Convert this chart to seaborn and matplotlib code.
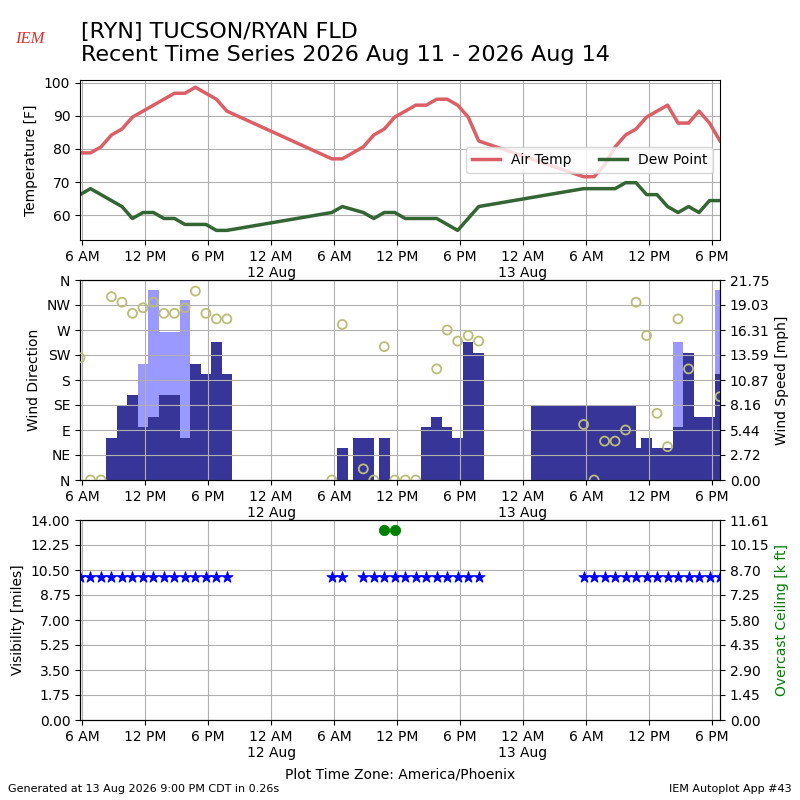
import numpy as np
import pandas as pd
import matplotlib
matplotlib.use('Agg')
import matplotlib.pyplot as plt
import matplotlib.dates as mdates
from matplotlib.ticker import FuncFormatter, FormatStrFormatter
import seaborn as sns

# observation hours, local time, every ob taken at :47
aug11_hours = list(range(5, 20))
aug12_hours = [5, 6] + list(range(8, 20))
aug13_hours = list(range(5, 19))

# air temperature [F]
tmpf = [78.8, 78.8, 80.6, 84.2, 86.0, 89.6, 91.4, 93.2, 95.0, 96.8, 96.8, 98.6, 96.8, 95.0, 91.4,
        77.0, 77.0, 80.6, 84.2, 86.0, 89.6, 91.4, 93.2, 93.2, 95.0, 95.0, 93.2, 89.6, 82.4,
        71.6, 71.6, 75.2, 80.6, 84.2, 86.0, 89.6, 91.4, 93.2, 87.8, 87.8, 91.4, 87.8, 82.4]
# dew point [F]
dwpf = [66.2, 68.0, 66.2, 64.4, 62.6, 59.0, 60.8, 60.8, 59.0, 59.0, 57.2, 57.2, 57.2, 55.4, 55.4,
        60.8, 62.6, 60.8, 59.0, 60.8, 60.8, 59.0, 59.0, 59.0, 59.0, 57.2, 55.4, 59.0, 62.6,
        68.0, 68.0, 68.0, 68.0, 69.8, 69.8, 66.2, 66.2, 62.6, 60.8, 62.6, 60.8, 64.4, 64.4]
# wind direction [deg]
drct = [220, 0, 0, 330, 320, 300, 310, 320, 300, 300, 310, 340, 300, 290, 290,
        0, 280, 20, 0, 240, 0, 0, 0, np.nan, 200, 270, 250, 260, 250,
        100, 0, 70, 70, 90, 320, 260, 120, 60, 290, 200, np.nan, np.nan, 150]
# wind speed [mph]
sped = [np.nan, 0, 0, 4.6, 8.06, 9.2, 5.75, 6.9, 9.2, 9.2, 4.6, 12.66, 11.5, 14.96, 11.5,
        0, 3.45, 4.6, 0, 4.6, 0, 0, 0, 5.75, 6.9, 5.75, 4.6, 14.96, 13.8,
        8.06, 0, 3.45, 4.6, 4.6, 3.45, 4.6, 3.45, 3.45, 5.75, 13.8, 6.9, 6.9, 11.5]
# wind gust [mph]
gust = [np.nan] * 6 + [12.66, 20.7, 16.1, 16.1, 19.6] + [np.nan] * 4 + \
       [np.nan] * 14 + \
       [np.nan] * 9 + [14.96] + [np.nan] * 3 + [20.7]
# visibility [miles]
vsby = [10.0] * 43
# overcast ceiling [k ft]
ceil = [np.nan] * 19 + [11.0, 11.0] + [np.nan] * 22

valid = ([pd.Timestamp(2026, 8, 11, h, 47) for h in aug11_hours] +
         [pd.Timestamp(2026, 8, 12, h, 47) for h in aug12_hours] +
         [pd.Timestamp(2026, 8, 13, h, 47) for h in aug13_hours])

df = pd.DataFrame({'valid': valid, 'tmpf': tmpf, 'dwpf': dwpf, 'drct': drct,
                   'sped': sped, 'gust': gust, 'vsby': vsby, 'ceil': ceil})

# bar width = time since previous ob, bar centred on the ob
xnum = mdates.date2num(df['valid'])
widths = np.diff(xnum, prepend=xnum[0])

fig = plt.figure(figsize=(8, 8), dpi=100)


def timefmt(x, pos=None):
    dt = mdates.num2date(x)
    label = dt.strftime('%-I %p')
    if dt.hour == 0:
        label += '\n' + dt.strftime('%-d %b')
    return label


def setup_xaxis(ax):
    ax.set_xlim(df['valid'].iloc[0], df['valid'].iloc[-1])
    ax.xaxis.set_major_locator(mdates.HourLocator(byhour=[0, 6, 12, 18]))
    ax.xaxis.set_major_formatter(FuncFormatter(timefmt))
    ax.set_xlabel('')
    ax.grid(True)


# Temperature panel
ax = fig.add_axes([0.1, 0.7, 0.8, 0.2])
sns.lineplot(data=df, x='valid', y='tmpf', ax=ax, color='#dd5f66', lw=2.5, label='Air Temp')
sns.lineplot(data=df, x='valid', y='dwpf', ax=ax, color='#336633', lw=2.5, label='Dew Point')
ax.set_ylim(52.5, 100.8)
ax.set_yticks([60, 70, 80, 90, 100])
ax.set_ylabel('Temperature [F]')
ax.legend(loc='center right', ncol=2)
setup_xaxis(ax)

# Wind panel
ax_w = fig.add_axes([0.1, 0.4, 0.8, 0.25])
ax_s = ax_w.twinx()
ax_s.bar(xnum, df['gust'], width=widths, color='#9999ff', align='center')
ax_s.bar(xnum, df['sped'], width=widths, color='#373698', align='center')
spd_top = 18 * 1.150779 * 1.05
ax_s.set_ylim(0, spd_top)
ax_s.set_yticks(np.linspace(0, spd_top, 9))
ax_s.yaxis.set_major_formatter(FormatStrFormatter('%.2f'))
ax_s.set_ylabel('Wind Speed [mph]')

sns.scatterplot(data=df, x='valid', y='drct', ax=ax_w, s=42, marker='o',
                facecolors='none', edgecolor='#bdbd78', linewidth=1.3, zorder=5)
ax_w.set_zorder(ax_s.get_zorder() + 1)
ax_w.patch.set_visible(False)
ax_w.set_ylim(0, 360)
ax_w.set_yticks(range(0, 361, 45))
ax_w.set_yticklabels(['N', 'NE', 'E', 'SE', 'S', 'SW', 'W', 'NW', 'N'])
ax_w.set_ylabel('Wind Direction')
setup_xaxis(ax_w)

# Visibility / ceiling panel
ax_v = fig.add_axes([0.1, 0.1, 0.8, 0.25])
sns.scatterplot(data=df, x='valid', y='vsby', ax=ax_v, marker='*', s=70,
                color='b', edgecolor='b', zorder=5)
ax_v.set_ylim(0, 14)
ax_v.set_yticks(np.linspace(0, 14, 9))
ax_v.yaxis.set_major_formatter(FormatStrFormatter('%.2f'))
ax_v.set_ylabel('Visibility [miles]')
setup_xaxis(ax_v)

ax_c = ax_v.twinx()
sns.scatterplot(data=df, x='valid', y='ceil', ax=ax_c, marker='o', s=55,
                color='g', edgecolor='g')
ceil_top = 11.6055
ax_c.set_ylim(0, ceil_top)
ax_c.set_yticks(np.linspace(0, ceil_top, 9))
ax_c.yaxis.set_major_formatter(FormatStrFormatter('%.2f'))
ax_c.set_ylabel('Overcast Ceiling [k ft]', color='g')
ax_c.set_xlim(df['valid'].iloc[0], df['valid'].iloc[-1])

# Titles and footer
fig.text(0.101, 0.973, '[RYN] TUCSON/RYAN FLD\nRecent Time Series 2026 Aug 11 - 2026 Aug 14',
         fontsize=16, va='top', ha='left')
fig.text(0.037, 0.951, 'IEM', color='#e03030', fontsize=12, style='italic',
         family='Liberation Serif', ha='center', va='center')
fig.text(0.5, 0.032, 'Plot Time Zone: America/Phoenix', ha='center', va='center', fontsize=10)
fig.text(0.01, 0.014, 'Generated at 13 Aug 2026 9:00 PM CDT in 0.26s', fontsize=8,
         ha='left', va='center')
fig.text(0.99, 0.014, 'IEM Autoplot App #43', fontsize=8, ha='right', va='center')

fig.savefig('out.png', dpi=100)
